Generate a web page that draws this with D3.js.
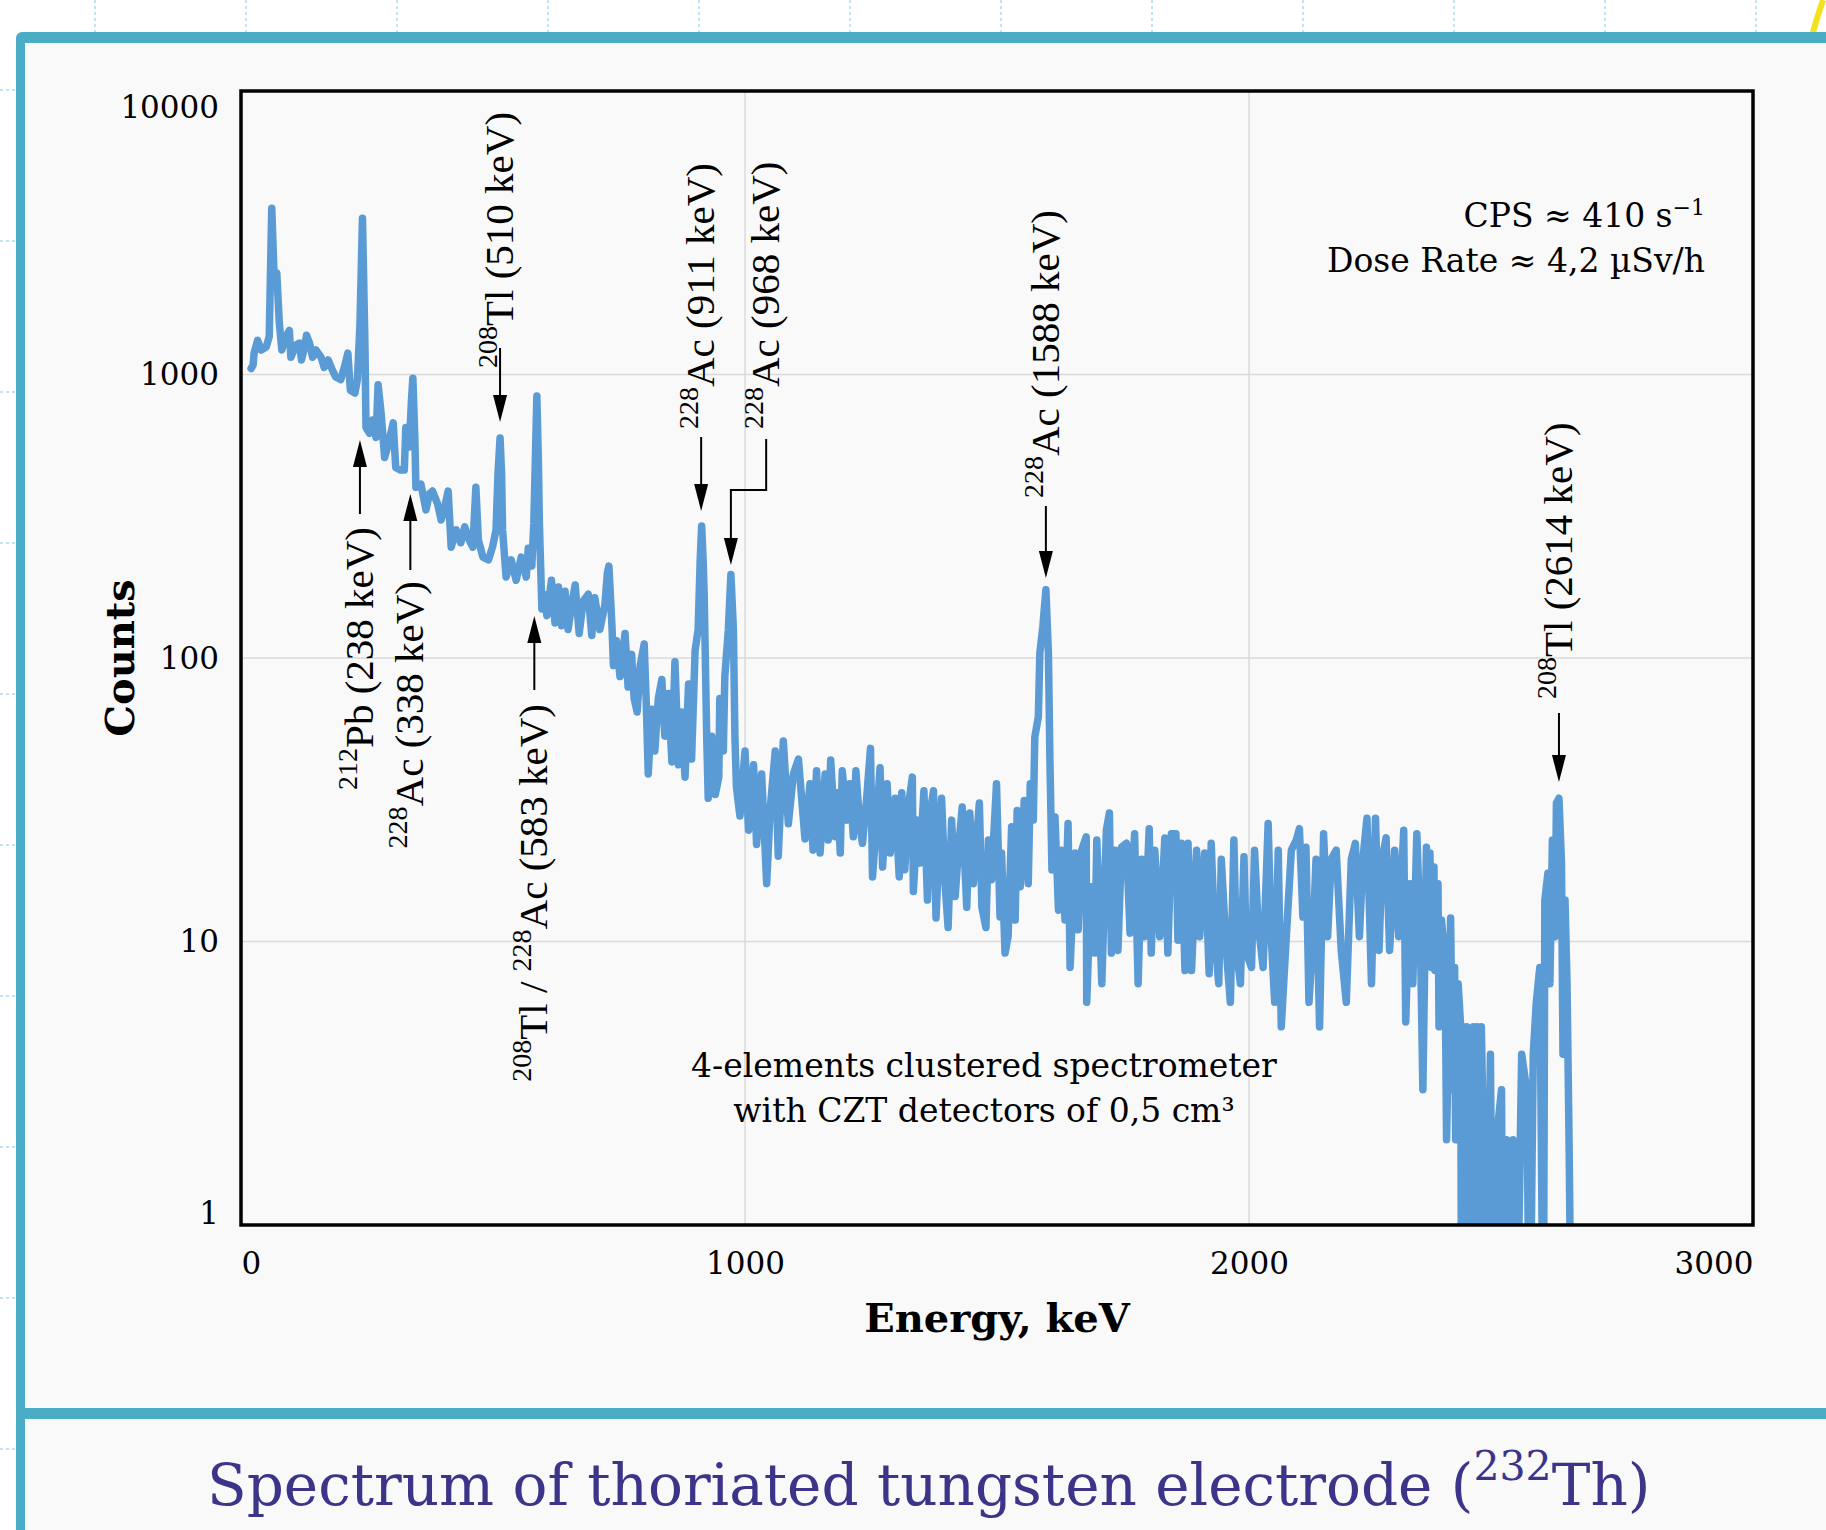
<!DOCTYPE html>
<html>
<head>
<meta charset="utf-8">
<script src="https://cdn.jsdelivr.net/npm/d3@7"></script>
<style>
  body { margin: 0; background: #ffffff; }
  svg { display: block; }
</style>
</head>
<body>
<div id="plot"></div>
<script>
var width = 1826;
var height = 1530;

// spectrum: energy (keV) and counts per channel
var energy = [
  20, 24, 26, 33, 40, 50, 56, 61, 66, 71, 76, 81, 89, 96, 99, 109, 116, 120, 126, 130,
  136, 142, 149, 159, 165, 173, 182, 188, 198, 205, 212, 217, 226, 231, 236, 241, 246, 248, 255, 261,
  268, 272, 278, 285, 291, 302, 307, 316, 324, 327, 334, 338, 341, 345, 347, 357, 367, 374, 380, 390,
  397, 403, 411, 417, 427, 436, 444, 453, 460, 466, 471, 480, 491, 499, 506, 510, 514, 517, 519, 526,
  536, 546, 556, 566, 570, 577, 581, 584, 587, 590, 592, 597, 601, 607, 616, 623, 630, 636, 643, 649,
  656, 663, 671, 679, 689, 696, 702, 712, 722, 727, 730, 736, 739, 745, 752, 762, 768, 775, 780, 786,
  792, 800, 804, 808, 815, 821, 828, 835, 841, 848, 855, 861, 868, 874, 881, 888, 894, 901, 907, 911,
  914, 917, 919, 924, 927, 934, 941, 948, 950, 957, 960, 967, 972, 977, 980, 983, 990, 1000, 1007, 1017,
  1023, 1033, 1043, 1050, 1060, 1066, 1076, 1086, 1096, 1106, 1119, 1129, 1135, 1142, 1149, 1159, 1165, 1170, 1179, 1183,
  1189, 1193, 1202, 1208, 1215, 1220, 1227, 1233, 1241, 1249, 1253, 1261, 1268, 1273, 1282, 1288, 1298, 1306, 1311, 1317,
  1324, 1332, 1334, 1342, 1347, 1355, 1362, 1368, 1374, 1379, 1386, 1390, 1397, 1403, 1410, 1417, 1423, 1431, 1440, 1446,
  1453, 1460, 1465, 1470, 1478, 1483, 1489, 1499, 1506, 1509, 1516, 1522, 1529, 1536, 1540, 1546, 1554, 1562, 1566, 1572,
  1575, 1582, 1585, 1591, 1597, 1602, 1605, 1609, 1615, 1622, 1628, 1635, 1641, 1645, 1655, 1661, 1668, 1677, 1678, 1686,
  1694, 1698, 1708, 1717, 1723, 1727, 1734, 1740, 1747, 1757, 1764, 1773, 1780, 1787, 1793, 1802, 1806, 1813, 1823, 1833,
  1839, 1846, 1855, 1859, 1866, 1873, 1879, 1886, 1896, 1902, 1912, 1921, 1925, 1932, 1940, 1945, 1955, 1963, 1970, 1975,
  1983, 1990, 1995, 2005, 2011, 2018, 2028, 2038, 2044, 2051, 2058, 2064, 2074, 2084, 2094, 2100, 2107, 2113, 2119, 2127,
  2133, 2140, 2148, 2156, 2163, 2173, 2183, 2193, 2203, 2211, 2219, 2226, 2234, 2243, 2251, 2258, 2264, 2272, 2279, 2289,
  2297, 2307, 2311, 2319, 2325, 2333, 2340, 2345, 2350, 2352, 2356, 2359, 2362, 2364, 2367, 2369, 2375, 2377, 2382, 2389,
  2392, 2400, 2404, 2408, 2410, 2415, 2420, 2422, 2425, 2428, 2432, 2435, 2438, 2441, 2445, 2448, 2452, 2455, 2461, 2465,
  2471, 2479, 2484, 2491, 2501, 2504, 2511, 2518, 2524, 2531, 2541, 2551, 2557, 2564, 2570, 2577, 2584, 2587, 2593, 2597,
  2602, 2607, 2610, 2615, 2620, 2623, 2627, 2631, 2635, 2640
];
var counts = [
  1050, 1080, 1190, 1320, 1220, 1250, 1360, 3860, 2150, 2280, 1520, 1220, 1360, 1430, 1150, 1270, 1290, 1125, 1250, 1375,
  1290, 1150, 1220, 1150, 1060, 1125, 1030, 980, 960, 1060, 1190, 880, 860, 960, 1500, 3560, 1250, 650, 620, 690,
  600, 920, 730, 510, 555, 675, 470, 460, 460, 650, 555, 800, 970, 590, 400, 410, 333, 380, 388, 350,
  307, 333, 388, 246, 283, 255, 290, 260, 246, 400, 260, 227, 222, 246, 283, 450, 597, 450, 283, 193,
  222, 188, 227, 193, 244, 211, 299, 500, 840, 500, 299, 149, 168, 141, 188, 133, 178, 130, 172, 126,
  154, 181, 122, 159, 168, 120, 163, 126, 154, 200, 211, 130, 94, 115, 86, 122, 79, 103, 72, 64.5,
  94, 112, 70, 39, 66, 47, 72, 84, 53, 75, 43, 97, 42, 64.5, 38, 81, 44, 106, 126, 220,
  292, 220, 168, 53, 32, 53, 33, 38, 72, 47, 86, 126, 197, 126, 53, 35, 27.7, 47, 24.7, 42,
  22, 39, 16, 29.4, 47, 20, 51, 26, 39, 44, 23, 36, 21, 40, 20.5, 39, 22.8, 43.7, 23.4, 33.5,
  20.5, 40, 26.8, 36, 23.4, 40, 26.8, 22.2, 31.4, 48, 16.9, 26.8, 41, 18.3, 36, 20.5, 32, 16.9, 33.5, 17.9,
  29.8, 38, 15, 26.8, 18.9, 34, 14, 29, 34, 12.1, 23.4, 32, 16, 11.2, 26.8, 14.4, 20.5, 29.8, 13.2, 28.4,
  16, 23.4, 30.8, 13.2, 11.2, 22.8, 16.5, 36, 12.2, 20.5, 9.1, 10.4, 25.4, 11.9, 29, 15.6, 31.4, 16, 36, 26.8,
  52.6, 62, 104, 129, 174, 104, 43.7, 17.9, 27.5, 12.9, 21, 11.9, 26.1, 8.1, 20.5, 11, 21, 23.4, 6.1, 15.6,
  9.1, 22.8, 7.1, 24.7, 28.4, 9.1, 21, 9.3, 21.5, 22.2, 10.7, 24, 7.1, 19.5, 10.4, 25, 9.1, 21, 10.4, 23.2,
  9.1, 24, 24, 10.1, 22.2, 7.9, 22.2, 7.9, 21, 10.4, 20.5, 7.7, 22.2, 10.4, 7.1, 19.5, 9.3, 6.1, 22.8, 9.3,
  7.1, 19.9, 9.1, 8.1, 21, 11.6, 8.1, 26.1, 10.4, 6.1, 21, 5, 10.4, 21, 22.8, 25, 12.2, 21.5, 6.1, 10.4,
  19.5, 5, 24, 10.4, 19.5, 21, 9.3, 6.1, 19.5, 22.2, 10.4, 19.5, 27.2, 7.1, 27.2, 9.3, 19.5, 23.2, 9.3, 21,
  10.4, 24.7, 5.2, 16, 7.1, 24, 10.4, 3, 12.2, 21.5, 12.9, 20.5, 8.1, 11, 18.3, 7.9, 16, 5, 11.9, 8.4,
  2, 12.1, 3, 8.1, 2, 7.1, 5, 0, 5, 0, 5, 0, 4, 0, 5, 0, 5, 0, 5, 2,
  0, 4, 0, 2, 3, 0, 2, 0, 2, 0, 4, 3, 0, 4, 6.1, 8.1, 0, 14, 17.4, 7.1,
  22.8, 10.4, 30.8, 32, 19, 4, 14, 7.1, 2, 0
];

var xTicks = [0, 1000, 2000, 3000];
var yTicks = [1, 10, 100, 1000, 10000];

// peak annotations
var peakE = [236, 336, 582, 514, 913, 972, 1597, 2615];
var peakLabel = [
  [['212', 'Pb (238 keV)']],
  [['228', 'Ac (338 keV)']],
  [['208', 'Tl / '], ['228', 'Ac (583 keV)']],
  [['208', 'Tl (510 keV)']],
  [['228', 'Ac (911 keV)']],
  [['228', 'Ac (968 keV)']],
  [['228', 'Ac (1588 keV)']],
  [['208', 'Tl (2614 keV)']]
];
// where each label sits (pixels): arrow direction, tail, tip, text anchor, label energy for elbow
var annoLayout = [
  { dir: 'up',   tail: 514, tip: 440, text: 527 },
  { dir: 'up',   tail: 570, tip: 494, text: 581 },
  { dir: 'up',   tail: 690, tip: 616, text: 704 },
  { dir: 'down', tail: 348, tip: 422, text: 368 },
  { dir: 'down', tail: 437, tip: 511, text: 429 },
  { dir: 'down', tail: 439, tip: 565, text: 429, labelE: 1042, elbow: 490 },
  { dir: 'down', tail: 506, tip: 578, text: 498 },
  { dir: 'down', tail: 713, tip: 782, text: 699 }
];

var plot = { left: 241, right: 1753, top: 91, bottom: 1225 };
var teal = '#4bacc6';
var serif = 'DejaVu Serif';
var labelFont = "'Liberation Serif', 'Times New Roman', 'Nimbus Roman', serif";

var svg = d3.select('#plot')
            .append('svg')
            .attr('width', width)
            .attr('height', height);

// page background with dotted guide lines
svg.append('rect').attr('width', width).attr('height', height).attr('fill', '#ffffff');
var dots = svg.append('g')
              .attr('stroke', '#c4e2f3')
              .attr('stroke-width', 2)
              .attr('stroke-dasharray', '3,3');
dots.selectAll('line.v')
    .data(d3.range(95, width, 151))
    .enter().append('line')
    .attr('class', 'v')
    .attr('x1', function(d) { return d; }).attr('x2', function(d) { return d; })
    .attr('y1', 0).attr('y2', 34);
dots.selectAll('line.h')
    .data(d3.range(90, height, 151))
    .enter().append('line')
    .attr('class', 'h')
    .attr('x1', 0).attr('x2', 15)
    .attr('y1', function(d) { return d; }).attr('y2', function(d) { return d; });

svg.append('path')
   .attr('d', 'M1823,0 Q1816,20 1811,40')
   .attr('fill', 'none')
   .attr('stroke', '#f2e21c')
   .attr('stroke-width', 6);

// card
svg.append('rect')
   .attr('x', 16).attr('y', 32)
   .attr('width', 1900).attr('height', 1600)
   .attr('rx', 6)
   .attr('fill', teal);
svg.append('rect')
   .attr('x', 25).attr('y', 43)
   .attr('width', 1900).attr('height', 1365)
   .attr('fill', '#f9f9f9');
svg.append('rect')
   .attr('x', 25).attr('y', 1419)
   .attr('width', 1900).attr('height', 200)
   .attr('fill', '#f9f9f9');

var x_scale = d3.scaleLinear()
                .domain([0, 3000])
                .range([plot.left, plot.right]);
var y_scale = d3.scaleLog()
                .domain([1, 10000])
                .range([plot.bottom, plot.top]);

// grid
var grid = svg.append('g').attr('stroke', '#dadada').attr('stroke-width', 1.5);
grid.selectAll('line.gx')
    .data(xTicks.slice(1, -1))
    .enter().append('line')
    .attr('x1', function(d) { return x_scale(d); }).attr('x2', function(d) { return x_scale(d); })
    .attr('y1', plot.top).attr('y2', plot.bottom);
grid.selectAll('line.gy')
    .data(yTicks.slice(1, -1))
    .enter().append('line')
    .attr('x1', plot.left).attr('x2', plot.right)
    .attr('y1', function(d) { return y_scale(d); }).attr('y2', function(d) { return y_scale(d); });

// spectrum
svg.append('clipPath').attr('id', 'clip')
   .append('rect')
   .attr('x', plot.left).attr('y', plot.top)
   .attr('width', plot.right - plot.left).attr('height', plot.bottom - plot.top);

var spectrum = energy.map(function(e, i) { return { e: e, c: counts[i] }; });
var line = d3.line()
             .x(function(d) { return x_scale(d.e); })
             .y(function(d) { return y_scale(Math.max(d.c, 0.3)); });

svg.append('path')
   .datum(spectrum)
   .attr('clip-path', 'url(#clip)')
   .attr('d', line)
   .attr('fill', 'none')
   .attr('stroke', '#5b9bd5')
   .attr('stroke-width', 7.5)
   .attr('stroke-linejoin', 'round')
   .attr('stroke-linecap', 'round');

// frame
svg.append('rect')
   .attr('x', plot.left).attr('y', plot.top)
   .attr('width', plot.right - plot.left).attr('height', plot.bottom - plot.top)
   .attr('fill', 'none')
   .attr('stroke', '#000')
   .attr('stroke-width', 3.5);

// axes
var x_axis = d3.axisBottom(x_scale).tickValues(xTicks).tickSize(0).tickPadding(27).tickFormat(d3.format('d'));
var gx = svg.append('g').attr('transform', 'translate(0,' + plot.bottom + ')').call(x_axis);
gx.select('.domain').remove();
gx.selectAll('text')
  .attr('font-family', serif).attr('font-size', 31).attr('fill', '#000')
  .attr('text-anchor', function(d, i) { return i === 0 ? 'start' : (i === xTicks.length - 1 ? 'end' : 'middle'); });

var y_axis = d3.axisLeft(y_scale).tickValues(yTicks).tickSize(0).tickPadding(22).tickFormat(d3.format('d'));
var gy = svg.append('g').attr('transform', 'translate(' + plot.left + ',0)').call(y_axis);
gy.select('.domain').remove();
gy.selectAll('text')
  .attr('font-family', serif).attr('font-size', 31).attr('fill', '#000')
  .attr('dy', function(d, i) { return i === 0 ? '-2px' : (i === yTicks.length - 1 ? '26px' : '10px'); });

svg.append('text')
   .attr('transform', 'translate(' + 134 + ',' + (plot.top + plot.bottom) / 2 + ') rotate(-90)')
   .attr('text-anchor', 'middle')
   .attr('font-family', serif).attr('font-weight', 'bold').attr('font-size', 40)
   .text('Counts');
svg.append('text')
   .attr('x', (plot.left + plot.right) / 2).attr('y', 1332)
   .attr('text-anchor', 'middle')
   .attr('font-family', serif).attr('font-weight', 'bold').attr('font-size', 40)
   .text('Energy, keV');

// info text
function addSup(sel, parts, supSize, shift) {
    parts.forEach(function(p) {
        if (p[0]) {
            sel.append('tspan').attr('font-size', supSize).attr('dy', -shift).text(p[0]);
            sel.append('tspan').attr('dy', shift).text(p[1]);
        } else {
            sel.append('tspan').text(p[1]);
        }
    });
}

var info = svg.append('g')
              .attr('font-family', serif).attr('font-size', 33)
              .attr('text-anchor', 'end');
var cps = info.append('text').attr('x', 1705).attr('y', 227);
cps.append('tspan').text('CPS \u2248 410 s');
cps.append('tspan').attr('font-size', 22).attr('dy', -12).text('\u22121');
info.append('text').attr('x', 1705).attr('y', 272).text('Dose Rate \u2248 4,2 \u00b5Sv/h');

var note = svg.append('g')
              .attr('font-family', serif).attr('font-size', 33)
              .attr('text-anchor', 'middle');
note.append('text').attr('x', 984).attr('y', 1077).text('4-elements clustered spectrometer');
note.append('text').attr('x', 984).attr('y', 1122).text('with CZT detectors of 0,5 cm\u00b3');

// peak labels and arrows
var anno = svg.append('g');
peakE.forEach(function(e, i) {
    var lay = annoLayout[i];
    var ax = x_scale(e);
    var tx = lay.labelE ? x_scale(lay.labelE) : ax;
    var sgn = lay.dir === 'down' ? 1 : -1;
    var headLen = 27;

    var pts = [[tx, lay.tail]];
    if (lay.elbow) { pts.push([tx, lay.elbow]); pts.push([ax, lay.elbow]); }
    pts.push([ax, lay.tip - sgn * headLen]);
    anno.append('path')
        .attr('d', d3.line()(pts))
        .attr('fill', 'none').attr('stroke', '#000').attr('stroke-width', 2);
    anno.append('path')
        .attr('d', d3.line()([[ax, lay.tip], [ax - 7, lay.tip - sgn * headLen], [ax + 7, lay.tip - sgn * headLen]]) + 'Z')
        .attr('fill', '#000');

    var t = anno.append('text')
                .attr('transform', 'translate(' + (tx + 13) + ',' + lay.text + ') rotate(-90)')
                .style('font-family', labelFont).attr('font-size', 41)
                .attr('text-anchor', lay.dir === 'down' ? 'start' : 'end');
    addSup(t, peakLabel[i], 28, 16);
});

// caption
var cap = svg.append('text')
             .attr('x', 207).attr('y', 1505)
             .attr('font-family', serif).attr('font-size', 58)
             .attr('fill', '#3c3489');
addSup(cap, [['', 'Spectrum of thoriated tungsten electrode ('], ['232', 'Th)']], 41, 25);
</script>
</body>
</html>
